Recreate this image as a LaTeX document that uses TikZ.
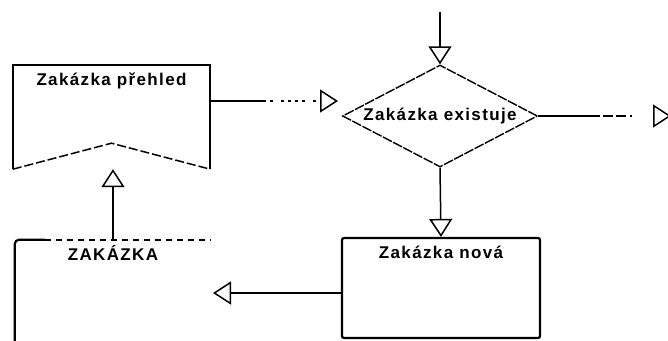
\documentclass[tikz,border=0pt]{standalone}
\usepackage{fontspec}
\usepackage{tikz}
\usetikzlibrary{calc,arrows.meta,shapes.geometric,positioning}
\newfontfamily\chartfont{Liberation Sans}[LetterSpace=8]

\tikzset{
  flow/.style={line width=1.5pt},
  tip/.style={-{Triangle[open,length=18pt,width=23pt]}},
  title/.style={font=\chartfont\bfseries\fontsize{17}{20}\selectfont, inner sep=0pt},
}

\begin{document}
\begin{tikzpicture}[x=1pt,y=-1pt]
    \useasboundingbox (0,0) rectangle (668,340);
    % overview document, notched bottom edge
    \node[minimum width=197pt, minimum height=104pt, inner sep=0pt] (prehled) at (111.5,117) {};
    \draw[line width=2pt] (prehled.south west) -- (prehled.north west) -- (prehled.north east) -- (prehled.south east);
    \draw[line width=1.5pt, dash pattern=on 9pt off 3pt] (prehled.south west) -- ($(prehled.south)+(0,-26)$) -- (prehled.south east);
    \node[title, below=8pt of prehled.north] (prehledT) {Zakázka přehled};
    % decision
    \node[draw, diamond, aspect=2, inner sep=0pt, minimum width=195pt, minimum height=102pt,
          line width=1.4pt, dash pattern=on 10pt off 1.5pt, title] (existuje) at (440,116) {Zakázka existuje};
    % new order
    \node[draw, line width=2.2pt, rounded corners=2pt, minimum width=198pt, minimum height=100pt, inner sep=0pt] (nova) at (441,288) {};
    \node[title, below=9pt of nova.north] (novaT) {Zakázka nová};
    % data store
    \node[minimum width=196pt, minimum height=110pt, inner sep=0pt] (store) at (113,295) {};
    \draw[line width=2.2pt, rounded corners=4pt] (store.south west) -- (store.north west) -- ($(store.north west)+(30,0)$);
    \draw[line width=1.5pt, dash pattern=on 6pt off 5pt] ($(store.north west)+(30,0)$) -- (store.north east);
    \node[title, below=5pt of store.north] (storeT) {ZAKÁZKA};
    % connectors
    \coordinate (start) at (440,12);
    \coordinate (exitR) at (671,116);
    \coordinate (toDec) at (338,101);
    \coordinate (toStore) at (213,293);
    \draw[flow, tip] (start) -- (existuje.north);
    \draw[flow, tip, dash pattern=on 62pt off 3pt on 10pt off 3pt on 10pt off 4pt on 2pt off 30pt] (existuje.east) -- (exitR);
    \draw[flow, tip, dash pattern=on 56pt off 4pt on 3pt off 8pt on 3pt off 4pt on 3pt off 4pt on 3pt off 4pt on 3pt off 8pt on 3pt off 10pt] (prehled.east |- toDec) -- (toDec);
    \draw[flow, tip] (existuje.south) -- (nova.north);
    \draw[flow, tip] (nova.west |- toStore) -- (toStore);
    \draw[flow, tip] (store.north) -- (store.north |- prehled.south);
\end{tikzpicture}
\end{document}
